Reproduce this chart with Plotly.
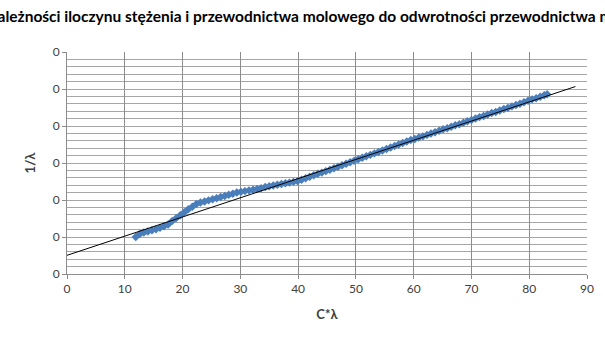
import plotly.graph_objects as go

title_text = ("Wykres zależności iloczynu stężenia i przewodnictwa molowego "
              "do odwrotności przewodnictwa molowego")
x_label = "C*λ"
y_label = "1/λ"

c_lambda = [11.9, 12.6, 13.3, 14.0, 14.7, 15.4, 16.1, 16.8, 17.5, 18.2, 18.9, 19.6,
            20.3, 21.0, 21.7, 22.4, 23.1, 23.8, 24.5, 25.2, 25.9, 26.6, 27.3, 28.0,
            28.7, 29.4, 30.1, 30.8, 31.5, 32.2, 32.9, 33.6, 34.3, 35.0, 35.7, 36.4,
            37.1, 37.8, 38.5, 39.2, 39.9, 40.6, 41.3, 42.0, 42.7, 43.4, 44.1, 44.8,
            45.5, 46.2, 46.9, 47.6, 48.3, 49.0, 49.7, 50.4, 51.1, 51.8, 52.5, 53.2,
            53.9, 54.6, 55.3, 56.0, 56.7, 57.4, 58.1, 58.8, 59.5, 60.2, 60.9, 61.6,
            62.3, 63.0, 63.7, 64.4, 65.1, 65.8, 66.5, 67.2, 67.9, 68.6, 69.3, 70.0,
            70.7, 71.4, 72.1, 72.8, 73.5, 74.2, 74.9, 75.6, 76.3, 77.0, 77.7, 78.4,
            79.1, 79.8, 80.5, 81.2, 81.9, 82.6, 83.1]
inv_lambda = [0.0100, 0.0108, 0.0112, 0.0115, 0.0118, 0.0121, 0.0125, 0.0129, 0.0134,
              0.0143, 0.0151, 0.0159, 0.0167, 0.0175, 0.0182, 0.0189, 0.0193, 0.0196,
              0.0199, 0.0202, 0.0205, 0.0208, 0.0211, 0.0214, 0.0217, 0.0220, 0.0222,
              0.0224, 0.0226, 0.0228, 0.0230, 0.0232, 0.0235, 0.0237, 0.0239, 0.0241,
              0.0243, 0.0245, 0.0247, 0.0249, 0.0251, 0.0255, 0.0259, 0.0263, 0.0267,
              0.0271, 0.0274, 0.0278, 0.0282, 0.0286, 0.0290, 0.0294, 0.0298, 0.0302,
              0.0306, 0.0310, 0.0314, 0.0318, 0.0322, 0.0326, 0.0330, 0.0334, 0.0338,
              0.0342, 0.0346, 0.0350, 0.0354, 0.0358, 0.0362, 0.0365, 0.0369, 0.0372,
              0.0376, 0.0380, 0.0383, 0.0387, 0.0391, 0.0394, 0.0398, 0.0402, 0.0405,
              0.0409, 0.0413, 0.0416, 0.0420, 0.0424, 0.0427, 0.0431, 0.0435, 0.0438,
              0.0442, 0.0446, 0.0449, 0.0453, 0.0457, 0.0460, 0.0464, 0.0468, 0.0472,
              0.0475, 0.0479, 0.0483, 0.0486]

trend_intercept = 0.00505
trend_slope = 0.0005183
trend_x = [0, 88]
trend_y = [trend_intercept + trend_slope * v for v in trend_x]

x_ticks = [0, 10, 20, 30, 40, 50, 60, 70, 80, 90]
y_ticks = [0, 0.01, 0.02, 0.03, 0.04, 0.05, 0.06]

fig = go.Figure()
fig.add_trace(go.Scatter(
    x=c_lambda, y=inv_lambda, mode="markers",
    marker=dict(symbol="diamond", size=6.5, color="#4A7EBB",
                line=dict(width=0)),
    showlegend=False, hoverinfo="skip"))
fig.add_trace(go.Scatter(
    x=trend_x, y=trend_y, mode="lines",
    line=dict(color="black", width=1),
    showlegend=False, hoverinfo="skip"))

fig.update_layout(
    width=605, height=340,
    margin=dict(l=67, r=18, t=52, b=66),
    paper_bgcolor="white", plot_bgcolor="white",
    font=dict(family="Lato", color="#404040", size=12),
    title=dict(text="<b>" + title_text + "</b>", x=0.5, xanchor="center",
               y=1 - 17 / 340, yanchor="middle",
               font=dict(family="Lato", size=15.5, color="black")),
    xaxis=dict(
        range=[0, 90], tickvals=x_ticks, ticktext=[str(v) for v in x_ticks],
        showgrid=True, gridcolor="#8c8c8c", gridwidth=1,
        showline=True, linecolor="#8c8c8c", linewidth=1,
        ticks="outside", ticklen=4, tickcolor="#8c8c8c",
        zeroline=False, tickfont=dict(size=12, color="#404040"),
        title=dict(text="<b>" + x_label + "</b>", standoff=14,
                   font=dict(size=13, color="#404040"))),
    yaxis=dict(
        range=[0, 0.06], tickvals=y_ticks, tickformat=".0f",
        showgrid=True, gridcolor="#a6a6a6", gridwidth=1,
        minor=dict(dtick=0.002, showgrid=True, gridcolor="#a6a6a6", gridwidth=1),
        showline=True, linecolor="#8c8c8c", linewidth=1,
        ticks="outside", ticklen=4, tickcolor="#8c8c8c",
        zeroline=False, tickfont=dict(size=12, color="#404040"),
        title=dict(text="<b>" + y_label + "</b>", standoff=14,
                   font=dict(size=13, color="#404040"))),
)

fig.write_html("out.html")
